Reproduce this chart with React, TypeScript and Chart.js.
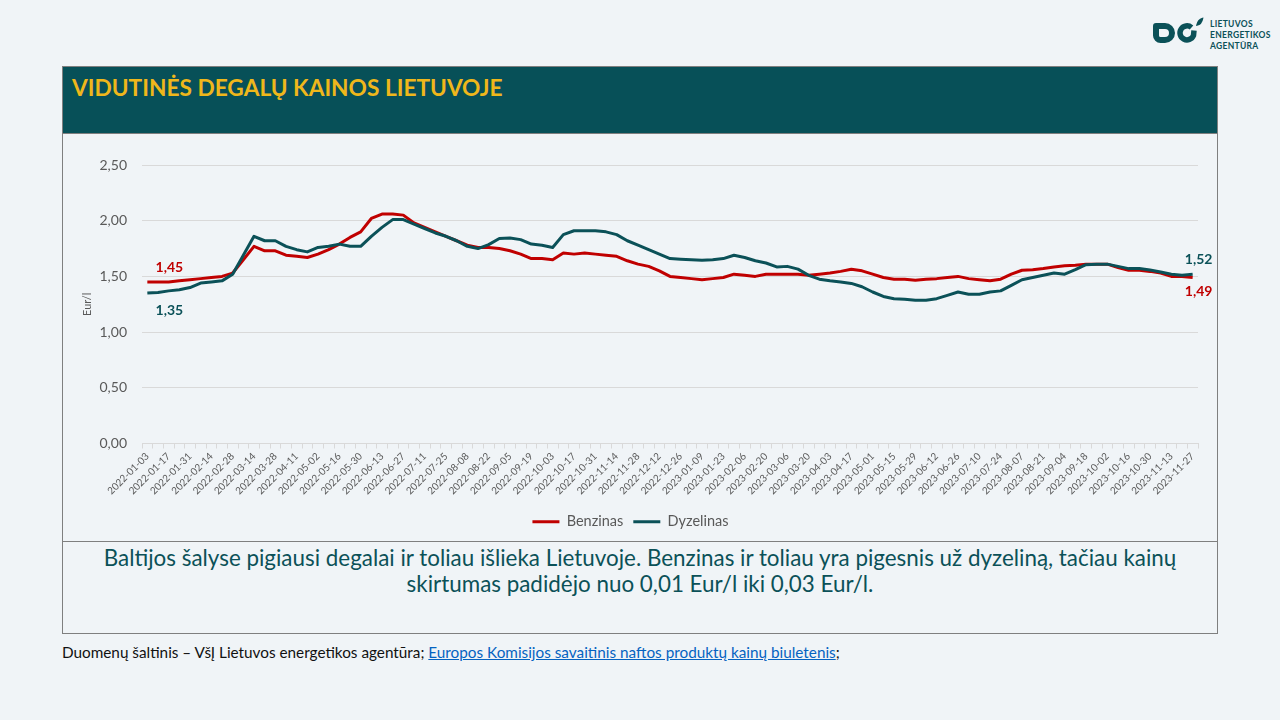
import React, { useEffect, useRef } from 'react';
import { Chart, registerables } from 'chart.js';

Chart.register(...registerables);

// ---------- DATA ----------
const dates: string[] = [
  '2022-01-03', '2022-01-10', '2022-01-17', '2022-01-24', '2022-01-31', '2022-02-07', '2022-02-14', '2022-02-21',
  '2022-02-28', '2022-03-07', '2022-03-14', '2022-03-21', '2022-03-28', '2022-04-04', '2022-04-11', '2022-04-25',
  '2022-05-02', '2022-05-09', '2022-05-16', '2022-05-23', '2022-05-30', '2022-06-06', '2022-06-13', '2022-06-20',
  '2022-06-27', '2022-07-04', '2022-07-11', '2022-07-18', '2022-07-25', '2022-08-01', '2022-08-08', '2022-08-15',
  '2022-08-22', '2022-08-29', '2022-09-05', '2022-09-12', '2022-09-19', '2022-09-26', '2022-10-03', '2022-10-10',
  '2022-10-17', '2022-10-24', '2022-10-31', '2022-11-07', '2022-11-14', '2022-11-21', '2022-11-28', '2022-12-05',
  '2022-12-12', '2022-12-19', '2022-12-26',
  '2023-01-02', '2023-01-09', '2023-01-16', '2023-01-23', '2023-01-30', '2023-02-06', '2023-02-13', '2023-02-20',
  '2023-02-27', '2023-03-06', '2023-03-13', '2023-03-20', '2023-03-27', '2023-04-03', '2023-04-10', '2023-04-17',
  '2023-04-24', '2023-05-01', '2023-05-08', '2023-05-15', '2023-05-22', '2023-05-29', '2023-06-05', '2023-06-12',
  '2023-06-19', '2023-06-26', '2023-07-03', '2023-07-10', '2023-07-17', '2023-07-24', '2023-07-31', '2023-08-07',
  '2023-08-14', '2023-08-21', '2023-08-28', '2023-09-04', '2023-09-11', '2023-09-18', '2023-09-25', '2023-10-02',
  '2023-10-09', '2023-10-16', '2023-10-23', '2023-10-30', '2023-11-06', '2023-11-13', '2023-11-20', '2023-11-27',
];

const benzinas: number[] = [
  1.45, 1.45, 1.45, 1.46, 1.47, 1.48, 1.49, 1.50, 1.53, 1.65,
  1.77, 1.73, 1.73, 1.69, 1.68, 1.67, 1.70, 1.74, 1.79, 1.85,
  1.90, 2.02, 2.06, 2.06, 2.05, 1.98, 1.94, 1.90, 1.86, 1.82,
  1.78, 1.76, 1.76, 1.75, 1.73, 1.70, 1.66, 1.66, 1.65, 1.71,
  1.70, 1.71, 1.70, 1.69, 1.68, 1.64, 1.61, 1.59, 1.55, 1.50,
  1.49, 1.48, 1.47, 1.48, 1.49, 1.52, 1.51, 1.50, 1.52, 1.52,
  1.52, 1.52, 1.51, 1.52, 1.53, 1.545, 1.565, 1.55, 1.52, 1.49,
  1.475, 1.475, 1.465, 1.475, 1.48, 1.49, 1.50, 1.48, 1.47, 1.46,
  1.475, 1.52, 1.555, 1.56, 1.57, 1.585, 1.595, 1.60, 1.61, 1.61,
  1.61, 1.58, 1.555, 1.555, 1.545, 1.53, 1.50, 1.50, 1.49,
];

const dyzelinas: number[] = [
  1.35, 1.355, 1.37, 1.38, 1.40, 1.44, 1.45, 1.46, 1.52, 1.69,
  1.86, 1.82, 1.82, 1.77, 1.74, 1.72, 1.76, 1.77, 1.79, 1.77,
  1.77, 1.86, 1.94, 2.01, 2.01, 1.97, 1.93, 1.89, 1.86, 1.82,
  1.77, 1.75, 1.785, 1.84, 1.845, 1.83, 1.79, 1.78, 1.76, 1.875,
  1.91, 1.91, 1.91, 1.90, 1.875, 1.82, 1.78, 1.74, 1.70, 1.66,
  1.655, 1.65, 1.645, 1.65, 1.66, 1.69, 1.67, 1.64, 1.62, 1.585,
  1.59, 1.565, 1.51, 1.475, 1.46, 1.45, 1.437, 1.407, 1.36, 1.32,
  1.30, 1.295, 1.286, 1.286, 1.30, 1.33, 1.36, 1.34, 1.34, 1.36,
  1.37, 1.42, 1.47, 1.49, 1.51, 1.53, 1.52, 1.56, 1.605, 1.61,
  1.61, 1.59, 1.57, 1.57, 1.557, 1.54, 1.52, 1.51, 1.52,
];

const seriesNames: string[] = ['Benzinas', 'Dyzelinas'];
const yMin = 0;
const yMax = 2.5;
const yStep = 0.5;

// ---------- STYLE ----------
const RED = '#C00000';
const TEAL = '#0B5158';
const HEADER = '#075058';
const GOLD = '#EFB71B';
const BG = '#F0F4F7';
const GRAY_TEXT = '#595959';
const GRID = '#D9D9D9';
const FONT = 'Lato, "Open Sans", sans-serif';

const fmt = (v: number) => v.toFixed(2).replace('.', ',');

const endLabelsPlugin = {
  id: 'endLabels',
  afterDatasetsDraw(chart: any) {
    const ctx = chart.ctx;
    const m0 = chart.getDatasetMeta(0);
    const m1 = chart.getDatasetMeta(1);
    const last = dates.length - 1;
    const b0 = m0.data[0];
    const d0 = m1.data[0];
    const bL = m0.data[last];
    const dL = m1.data[last];
    ctx.save();
    ctx.font = `bold 14px ${FONT}`;
    ctx.textAlign = 'center';
    ctx.textBaseline = 'middle';
    ctx.fillStyle = RED;
    ctx.fillText(fmt(benzinas[0]), b0.x + 22, b0.y - 14);
    ctx.fillText(fmt(benzinas[last]), bL.x + 6, bL.y + 14);
    ctx.fillStyle = TEAL;
    ctx.fillText(fmt(dyzelinas[0]), d0.x + 22, d0.y + 17);
    ctx.fillText(fmt(dyzelinas[last]), dL.x + 6, dL.y - 15);
    ctx.restore();
  },
};

function FuelChart() {
  const ref = useRef<HTMLCanvasElement | null>(null);
  useEffect(() => {
    if (!ref.current) return;
    const chart = new Chart(ref.current, {
      type: 'line',
      data: {
        labels: dates,
        datasets: [
          {
            label: seriesNames[0],
            data: benzinas,
            borderColor: RED,
            backgroundColor: RED,
            borderWidth: 3,
            pointRadius: 0,
            tension: 0,
            order: 1,
            borderJoinStyle: 'round',
          },
          {
            label: seriesNames[1],
            data: dyzelinas,
            borderColor: TEAL,
            backgroundColor: TEAL,
            borderWidth: 3,
            pointRadius: 0,
            tension: 0,
            order: 0,
            borderJoinStyle: 'round',
          },
        ],
      },
      options: {
        responsive: false,
        animation: false,
        maintainAspectRatio: false,
        layout: { padding: { left: 0, right: 19, top: 31, bottom: 2 } },
        plugins: {
          tooltip: { enabled: false },
          legend: {
            position: 'bottom',
            labels: {
              color: GRAY_TEXT,
              font: { family: FONT, size: 14.5 },
              boxWidth: 27,
              boxHeight: 3,
              padding: 10,
              sort: (a: any, b: any) => a.datasetIndex - b.datasetIndex,
              generateLabels: (chart: any) => {
                const items = Chart.defaults.plugins.legend.labels.generateLabels(chart);
                return items.map((it: any) => ({ ...it, lineWidth: 0, fillStyle: it.strokeStyle }));
              },
            },
          },
        },
        scales: {
          x: {
            type: 'category',
            offset: true,
            grid: {
              display: true,
              drawOnChartArea: false,
              drawTicks: true,
              tickLength: 5,
              offset: true,
              color: GRID,
            },
            border: { display: true, color: GRID },
            ticks: {
              autoSkip: false,
              maxRotation: 45,
              minRotation: 45,
              color: GRAY_TEXT,
              padding: 2,
              font: { family: FONT, size: 10 },
              callback: (_v: any, i: number) => (i % 2 === 0 ? dates[i] : ''),
            },
            afterFit: (s: any) => {
              s.height = 61;
            },
          },
          y: {
            min: yMin,
            max: yMax,
            border: { display: false },
            grid: { color: GRID, drawTicks: false },
            ticks: {
              stepSize: yStep,
              color: GRAY_TEXT,
              padding: 15,
              font: { family: FONT, size: 14 },
              callback: (v: any) => fmt(Number(v)),
            },
            title: {
              display: true,
              text: 'Eur/l',
              color: GRAY_TEXT,
              font: { family: FONT, size: 11 },
              padding: { top: 18, bottom: 0 },
            },
            afterFit: (s: any) => {
              s.width = 79;
            },
          },
        },
      },
      plugins: [endLabelsPlugin],
    });
    return () => chart.destroy();
  }, []);
  return <canvas ref={ref} width={1154} height={407} style={{ display: 'block' }} />;
}

function Logo() {
  return (
    <div style={{ position: 'absolute', left: 1150, top: 16, width: 125, height: 36 }}>
      <svg width={56} height={34} style={{ position: 'absolute', left: 0, top: 0 }}>
        <path
          d="M 6 10 H 15 A 7 7 0 0 1 22 17 A 7 7 0 0 1 15 24 H 10.5 A 4.5 4.5 0 0 1 6 19.5 Z"
          fill="none"
          stroke={TEAL}
          strokeWidth={6}
          strokeLinejoin="round"
        />
        <path d="M 41.5 11.5 A 7 7 0 1 0 43.5 19.5 L 44 14.5" fill="none" stroke={TEAL} strokeWidth={5.5} strokeLinejoin="round" />
        <path d="M 47 9 Q 48 4 52.5 2.5 Q 51.5 8 47 9 Z" fill={TEAL} stroke={TEAL} strokeWidth={1.5} />
      </svg>
      <div
        style={{
          position: 'absolute',
          left: 60,
          top: 3,
          fontFamily: FONT,
          fontWeight: 700,
          fontSize: 8.5,
          lineHeight: '11px',
          color: TEAL,
          letterSpacing: 0.3,
        }}
      >
        LIETUVOS
        <br />
        ENERGETIKOS
        <br />
        AGENTŪRA
      </div>
    </div>
  );
}

export default function App() {
  return (
    <div
      style={{
        position: 'absolute',
        left: 0,
        top: 0,
        width: 1280,
        height: 720,
        background: BG,
        overflow: 'hidden',
        fontFamily: FONT,
      }}
    >
      <Logo />
      {/* panel */}
      <div
        style={{
          position: 'absolute',
          left: 62,
          top: 66,
          width: 1154,
          height: 566,
          border: '1px solid #7F7F7F',
          background: BG,
        }}
      >
        <div
          style={{
            position: 'absolute',
            left: 0,
            top: 0,
            width: 1154,
            height: 66,
            background: HEADER,
            borderBottom: '1px solid #7F7F7F',
          }}
        >
          <div
            style={{
              position: 'absolute',
              left: 9,
              top: 6,
              color: GOLD,
              fontWeight: 700,
              fontSize: 22.7,
              lineHeight: '30px',
              whiteSpace: 'nowrap',
            }}
          >
            VIDUTINĖS DEGALŲ KAINOS LIETUVOJE
          </div>
        </div>
        <div style={{ position: 'absolute', left: 0, top: 67 }}>
          <FuelChart />
        </div>
        <div
          style={{
            position: 'absolute',
            left: 0,
            top: 474,
            width: 1154,
            height: 0,
            borderTop: '1px solid #7F7F7F',
          }}
        />
        <div
          style={{
            position: 'absolute',
            left: 0,
            top: 478,
            width: 1154,
            textAlign: 'center',
            color: TEAL,
            fontSize: 22.4,
            lineHeight: '26px',
            whiteSpace: 'nowrap',
          }}
        >
          Baltijos šalyse pigiausi degalai ir toliau išlieka Lietuvoje. Benzinas ir toliau yra pigesnis už dyzeliną, tačiau kainų
          <br />
          skirtumas padidėjo nuo 0,01 Eur/l iki 0,03 Eur/l.
        </div>
      </div>
      <div
        style={{
          position: 'absolute',
          left: 62,
          top: 643,
          fontSize: 15.3,
          lineHeight: '18px',
          color: '#111111',
          whiteSpace: 'nowrap',
        }}
      >
        Duomenų šaltinis – VšĮ Lietuvos energetikos agentūra;{' '}
        <span style={{ color: '#0563C1', textDecoration: 'underline' }}>
          Europos Komisijos savaitinis naftos produktų kainų biuletenis
        </span>
        ;
      </div>
    </div>
  );
}
